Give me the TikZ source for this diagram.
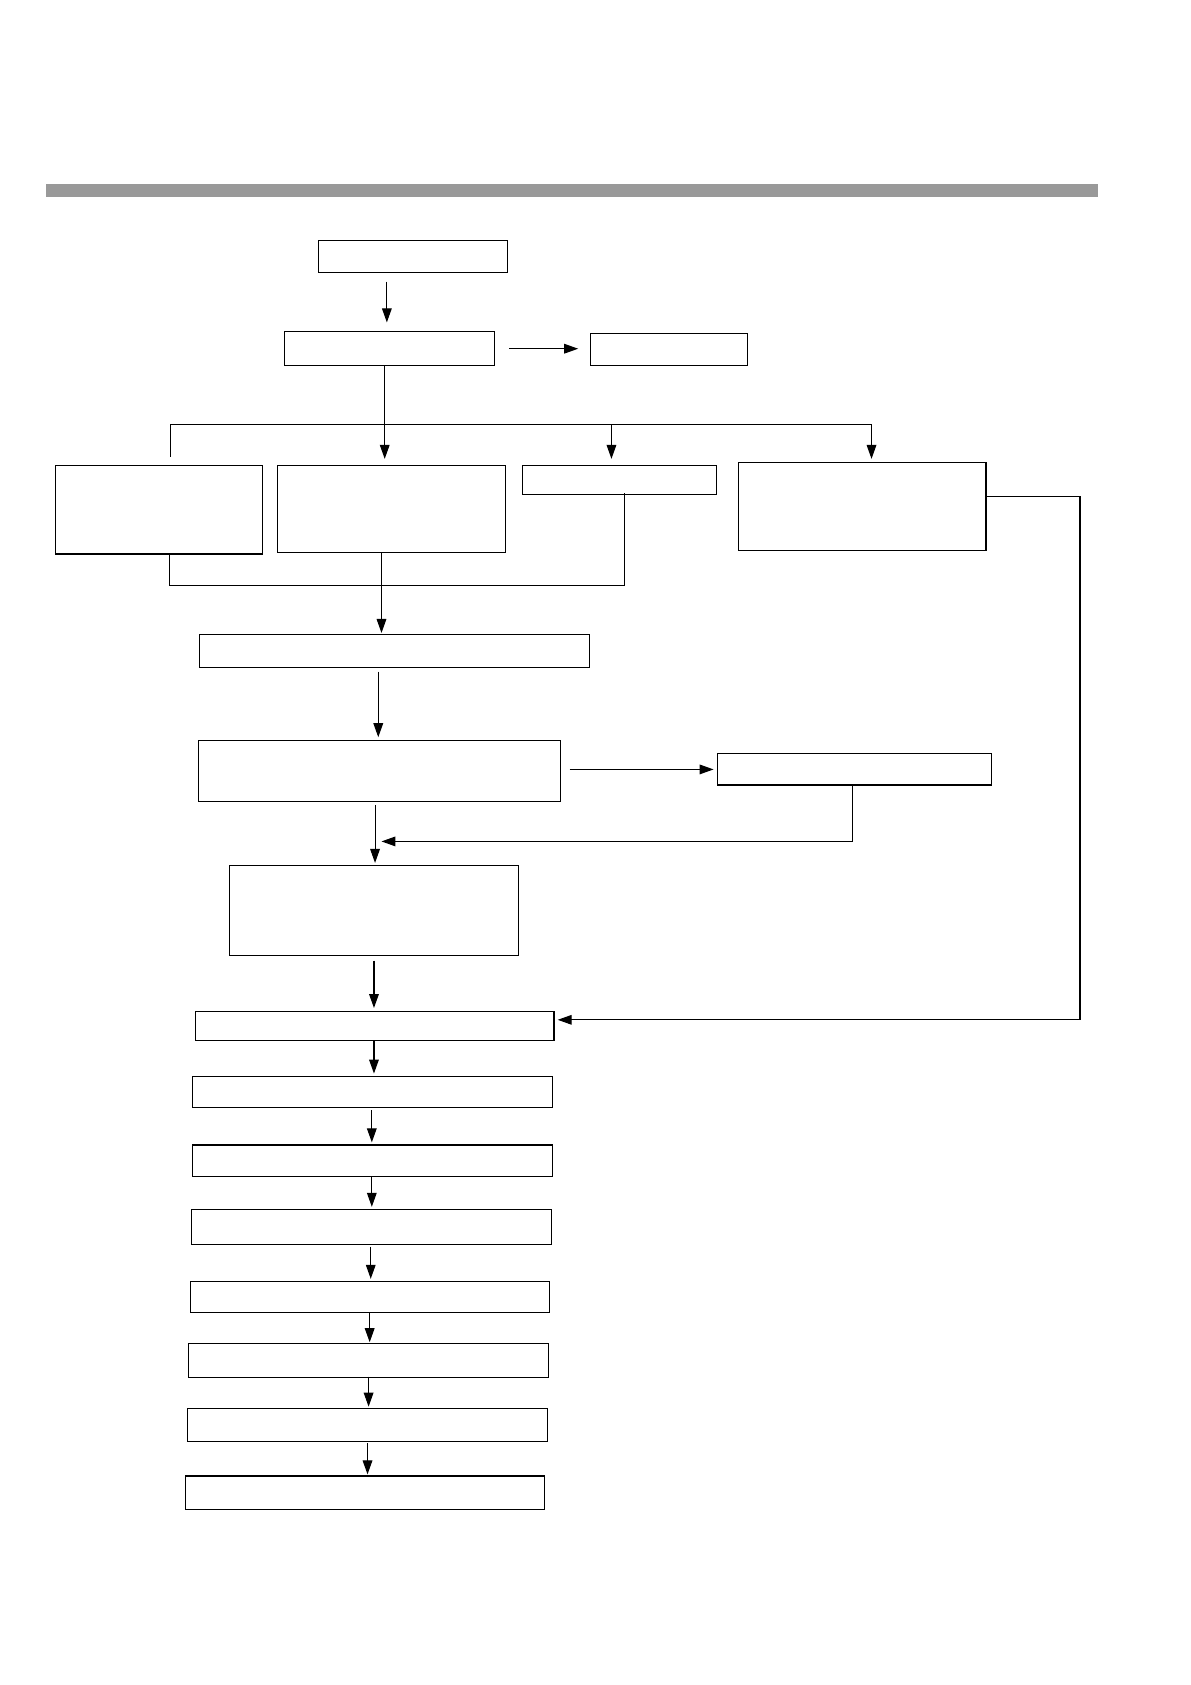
\documentclass[tikz,border=0pt]{standalone}
\usetikzlibrary{arrows.meta}
\begin{document}
\begin{tikzpicture}[x=1pt,y=-1pt,
  bx/.style={draw,line width=1pt,inner sep=0pt,anchor=north west},
  ln/.style={line width=1pt},
  arr/.style={line width=1pt,-{Triangle[length=13pt,width=9pt]}}]
\useasboundingbox (0,0) rectangle (1108,1568);
\fill[black!40] (43,171) rectangle (1022,183);
% boxes
\node[bx,minimum width=176pt,minimum height=30pt] (A) at (296,223) {};
\node[bx,minimum width=196pt,minimum height=32pt] (B) at (264,308) {};
\node[bx,minimum width=146pt,minimum height=30pt] (C) at (549,310) {};
\node[bx,minimum width=193pt,minimum height=82pt] (D) at (51,433) {};
\node[bx,minimum width=212pt,minimum height=81pt] (E) at (258,433) {};
\node[bx,minimum width=180pt,minimum height=27pt] (F) at (486,433) {};
\node[bx,minimum width=230pt,minimum height=82pt] (G) at (687,430) {};
\node[bx,minimum width=363pt,minimum height=31pt] (H) at (185,590) {};
\node[bx,minimum width=337pt,minimum height=56pt] (I) at (184,689) {};
\node[bx,minimum width=255pt,minimum height=29pt] (J) at (667,701) {};
\node[bx,minimum width=269pt,minimum height=84pt] (K) at (213,805) {};
\node[bx,minimum width=334pt,minimum height=27pt] (L) at (181,941) {};
\node[bx,minimum width=335pt,minimum height=29pt] (M) at (179,1001) {};
\node[bx,minimum width=335pt,minimum height=29pt] (N) at (179,1065) {};
\node[bx,minimum width=335pt,minimum height=33pt] (O) at (178,1125) {};
\node[bx,minimum width=334pt,minimum height=29pt] (P) at (177,1192) {};
\node[bx,minimum width=335pt,minimum height=31pt] (Q) at (175,1250) {};
\node[bx,minimum width=335pt,minimum height=31pt] (R) at (174,1310) {};
\node[bx,minimum width=334pt,minimum height=31pt] (S) at (172,1373) {};
% coordinates
\coordinate (a1) at (360,262);
\coordinate (b1) at (358,395);
\coordinate (busL) at (159,395);
\coordinate (busR) at (811,395);
\coordinate (f1) at (569,395);
\coordinate (d1) at (158,545);
\coordinate (e1) at (355,545);
\coordinate (fb) at (581,545);
\coordinate (h1) at (352,623);
\coordinate (j1) at (793,783);
\coordinate (i1) at (349,783);
\coordinate (k1) at (348,893);
\coordinate (g1) at (1005,462);
\coordinate (g2) at (1005,949);
\coordinate (l1) at (348,969);
\coordinate (m1) at (346,1033);
\coordinate (n1) at (346,1095);
\coordinate (o1) at (345,1160);
\coordinate (p1) at (344,1222);
\coordinate (q1) at (343,1281);
\coordinate (r1) at (342,1343);
% connectors
\draw[arr,shorten >=8pt] (a1) -- (a1 |- B.north);
\draw[arr,shorten <=13pt,shorten >=11pt] (B.east) -- (B.east -| C.west);
\draw[arr,shorten >=6pt] (b1 |- B.south) -- (b1 |- D.north);
\draw[ln] (busL) -- (busR);
\draw[ln] (busL) -- ++(0,30);
\draw[arr,shorten >=6pt] (f1) -- (f1 |- F.north);
\draw[arr,shorten >=3pt] (busR) -- (busR |- G.north);
\draw[ln] (d1 |- D.south) -- (d1) -- (fb) -- ([yshift=2pt]fb |- F.south);
\draw[arr,shorten >=1pt] (e1 |- E.south) -- (e1 |- H.north);
\draw[arr,shorten <=2pt,shorten >=3pt] (h1) -- (h1 |- I.north);
\draw[arr,shorten <=8pt,shorten >=3pt] (I.east |- J.west) -- (J.west);
\draw[arr,shorten >=6pt] (j1 |- J.south) -- (j1) -- (i1);
\draw[arr,shorten <=3pt,shorten >=2pt] (i1 |- I.south) -- (i1 |- K.north);
\draw[arr,shorten <=4pt,shorten >=3pt] (k1 |- K.south) -- (k1 |- L.north);
\draw[arr,shorten >=3pt] (G.east |- g1) -- (g1) -- (g2) -- (L.east |- g2);
\draw[arr,shorten >=2pt] (l1) -- (l1 |- M.north);
\draw[arr,shorten >=2pt] (m1) -- (m1 |- N.north);
\draw[arr,shorten >=2pt] (n1) -- (n1 |- O.north);
\draw[arr,shorten >=2pt] (o1) -- (o1 |- P.north);
\draw[arr,shorten >=1pt] (p1) -- (p1 |- Q.north);
\draw[arr,shorten >=1pt] (q1) -- (q1 |- R.north);
\draw[arr,shorten >=1pt] (r1) -- (r1 |- S.north);
\end{tikzpicture}
\end{document}
